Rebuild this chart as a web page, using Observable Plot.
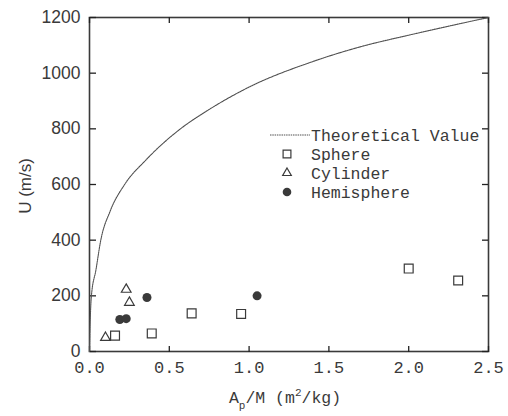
<!DOCTYPE html>
<html>
<head>
<meta charset="utf-8">
<script src="https://cdn.jsdelivr.net/npm/d3@7"></script>
<script src="https://cdn.jsdelivr.net/npm/@observablehq/plot@0.6"></script>
<style>
  html, body { margin: 0; padding: 0; background: #fff; }
  #wrap { position: relative; width: 508px; height: 416px; overflow: hidden; }
</style>
</head>
<body>
<div id="wrap"></div>
<script>
// ---- data ----
const xTicks = [0, 0.5, 1.0, 1.5, 2.0, 2.5];
const yTicks = [0, 200, 400, 600, 800, 1000, 1200];

const theoX = [0, 0.004, 0.012, 0.04, 0.07, 0.13, 0.22, 0.35, 0.57, 0.74, 1.0, 1.38, 1.68, 2.05, 2.5];
const theoU = [0, 100, 200, 292, 398, 505, 600, 686, 800, 866, 950, 1038, 1092, 1143, 1200];

const sphereX = [0.16, 0.39, 0.64, 0.95, 2.0, 2.31];
const sphereU = [57, 65, 137, 135, 298, 255];

const cylX = [0.10, 0.23, 0.25];
const cylU = [50, 223, 176];

const hemiX = [0.19, 0.23, 0.36, 1.05];
const hemiU = [115, 118, 194, 200];

const legendLabels = ["Theoretical Value", "Sphere", "Cylinder", "Hemisphere"];

// ---- build tables ----
const theo = theoX.map((x, i) => ({x, u: theoU[i]}));
const sphere = sphereX.map((x, i) => ({x, u: sphereU[i]}));
const cyl = cylX.map((x, i) => ({x, u: cylU[i]}));
const hemi = hemiX.map((x, i) => ({x, u: hemiU[i]}));

const ink = "#3a3a3a";
const mono = "'Liberation Mono', 'DejaVu Sans Mono', monospace";
const sans = "'Liberation Sans', Arial, sans-serif";

const W = 508, H = 416, mL = 89, mR = 20, mT = 17, mB = 65;
const frameW = W - mL - mR, frameH = H - mT - mB;
const tickLen = 6;
const blank = () => "";

const chart = Plot.plot({
  width: W,
  height: H,
  marginLeft: mL,
  marginRight: mR,
  marginTop: mT,
  marginBottom: mB,
  style: {background: "#fff", color: ink},
  x: {domain: [0, 2.5], axis: null},
  y: {domain: [0, 1200], axis: null},
  marks: [
    Plot.frame({stroke: ink, strokeWidth: 1.6}),
    // inward ticks: each axis is drawn on the opposite side and shifted across the frame
    Plot.axisX(xTicks, {anchor: "top", tickSize: tickLen, tickFormat: blank, label: null, dy: frameH, stroke: "#222", strokeWidth: 1.3}),
    Plot.axisX(xTicks, {anchor: "bottom", tickSize: tickLen, tickFormat: blank, label: null, dy: -frameH, stroke: "#222", strokeWidth: 1.3}),
    Plot.axisY(yTicks, {anchor: "right", tickSize: tickLen, tickFormat: blank, label: null, dx: -frameW, stroke: "#222", strokeWidth: 1.3}),
    Plot.axisY(yTicks, {anchor: "left", tickSize: tickLen, tickFormat: blank, label: null, dx: frameW, stroke: "#222", strokeWidth: 1.3}),
    // tick labels
    Plot.axisX(xTicks, {anchor: "bottom", tickSize: 0, tickPadding: 9, tickFormat: d3.format(".1f"),
      fontFamily: mono, fontSize: 17, fill: ink, label: null}),
    Plot.axisY(yTicks, {anchor: "left", tickSize: 0, tickPadding: 9, tickFormat: d => String(d),
      fontFamily: sans, fontSize: 17.5, fill: ink, label: null}),
    // theoretical curve
    Plot.line(theo, {x: "x", y: "u", curve: "monotone-x", stroke: "#505050", strokeWidth: 1.1, strokeDasharray: "1.5,0.8"}),
    // data
    Plot.dot(sphere, {x: "x", y: "u", symbol: "square", r: 5, stroke: ink, strokeWidth: 1.2, fill: "none"}),
    Plot.dot(cyl, {x: "x", y: "u", symbol: "triangle", r: 3.6, stroke: ink, strokeWidth: 1.2, fill: "none"}),
    Plot.dot(hemi, {x: "x", y: "u", symbol: "circle", r: 4.5, fill: ink, stroke: "none"})
  ]
});

document.getElementById("wrap").appendChild(chart);

// axis titles (with subscript / superscript)
const svg = d3.select(chart);
svg.append("text")
  .attr("transform", "translate(31,186) rotate(-90)")
  .attr("text-anchor", "middle")
  .attr("font-family", sans)
  .attr("font-size", 17)
  .attr("fill", ink)
  .text("U (m/s)");

const xl = svg.append("text")
  .attr("x", 285).attr("y", 403)
  .attr("text-anchor", "middle")
  .attr("font-family", mono)
  .attr("font-size", 16.5)
  .attr("fill", ink);
xl.append("tspan").text("A");
xl.append("tspan").attr("dy", 6).attr("font-size", 11).text("p");
xl.append("tspan").attr("dy", -6).text("/M (m");
xl.append("tspan").attr("dy", -7).attr("font-size", 11).text("2");
xl.append("tspan").attr("dy", 7).text("/kg)");

// legend (drawn into the chart's own svg)
const rowY = [135, 154, 173, 192];
const kinds = ["line", "square", "triangle", "circle"];
const lg = svg.append("g").attr("text-anchor", "start");
kinds.forEach((k, i) => {
  const y = rowY[i];
  if (k === "line") {
    lg.append("line").attr("x1", 270).attr("x2", 310).attr("y1", y).attr("y2", y)
      .attr("stroke", "#505050").attr("stroke-width", 1.1).attr("stroke-dasharray", "1.5,0.8");
  } else {
    const sym = k === "square" ? d3.symbolSquare : k === "triangle" ? d3.symbolTriangle : d3.symbolCircle;
    const r = k === "triangle" ? 3.2 : k === "square" ? 4.4 : 4.3;
    lg.append("path").attr("d", d3.symbol(sym, Math.PI * r * r)())
      .attr("transform", `translate(287,${y})`)
      .attr("fill", k === "circle" ? ink : "none")
      .attr("stroke", k === "circle" ? "none" : ink)
      .attr("stroke-width", 1.2);
  }
  lg.append("text").attr("x", 311).attr("y", y + 6)
    .attr("text-anchor", "start")
    .attr("font-family", mono).attr("font-size", 16.5).attr("fill", ink)
    .text(legendLabels[i]);
});
</script>
</body>
</html>
